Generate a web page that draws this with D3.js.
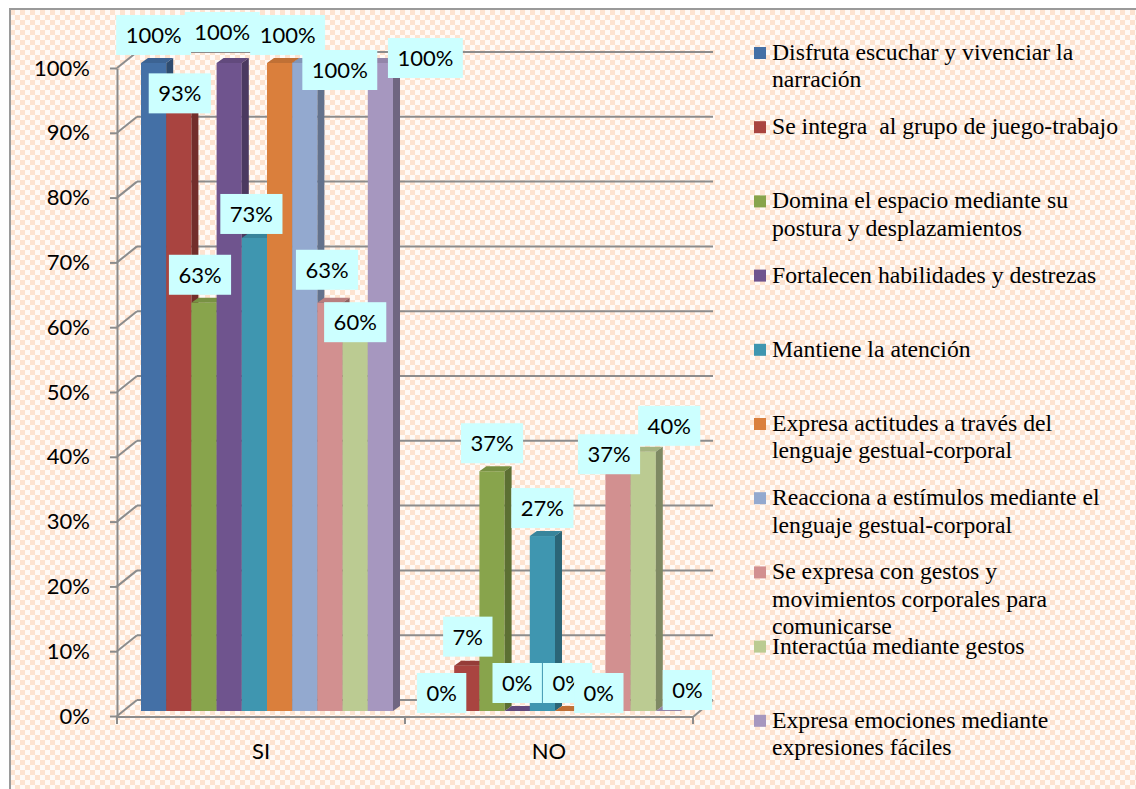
<!DOCTYPE html>
<html>
<head>
<meta charset="utf-8">
<script src="https://cdn.jsdelivr.net/npm/d3@7"></script>
<style>
  body { margin: 0; background: #fff; }
  svg { display: block; }
</style>
</head>
<body>
<div id="chart"></div>
<script>
// categories and series
const categories = ["SI", "NO"];
const seriesNames = [
  "Disfruta escuchar y vivenciar la\nnarración",
  "Se integra  al grupo de juego-trabajo",
  "Domina el espacio mediante su\npostura y desplazamientos",
  "Fortalecen habilidades y destrezas",
  "Mantiene la atención",
  "Expresa actitudes a través del\nlenguaje gestual-corporal",
  "Reacciona a estímulos mediante el\nlenguaje gestual-corporal",
  "Se expresa con gestos y\nmovimientos corporales para\ncomunicarse",
  "Interactúa mediante gestos",
  "Expresa emociones mediante\nexpresiones fáciles"
];
// percent values, one entry per series
const siValues = [100, 93, 63, 100, 73, 100, 100, 63, 60, 100];
const noValues = [0, 7, 37, 0, 27, 0, 0, 37, 40, 0];
const yTicks = [0, 10, 20, 30, 40, 50, 60, 70, 80, 90, 100];

const colors = ["#4470a6", "#a94440", "#88a44c", "#6f548e", "#3f96b0",
                "#da7f3c", "#93a9cf", "#d29090", "#bbcb92", "#a697bf"];

// labels were dragged by hand in the original, these are the pixel nudges
// from the default "above the bar" spot
const labelNudge = {
  SI: [[0, 0], [1, 13], [-4, 0], [-7, -3], [-3, 4], [8, 0], [35, 35], [-3, -5], [0, 28], [45, 23]],
  NO: [[0, 10], [1, -1], [0, 0], [0, 0], [0, 0], [0, 0], [6, 10], [-9, 11], [26, 2], [19, 7]]
};

const width = 1136, height = 789;
const labelFont = "Lato, 'Open Sans', sans-serif";

const svg = d3.select("#chart").append("svg")
    .attr("width", width)
    .attr("height", height);

// checker background
const defs = svg.append("defs");
const pat = defs.append("pattern")
    .attr("id", "checker")
    .attr("patternUnits", "userSpaceOnUse")
    .attr("width", 10).attr("height", 10);
pat.append("rect").attr("width", 10).attr("height", 10).attr("fill", "#fffaf6");
pat.append("rect").attr("width", 5).attr("height", 5).attr("fill", "#fde3d0");
pat.append("rect").attr("x", 5).attr("y", 5).attr("width", 5).attr("height", 5).attr("fill", "#fde3d0");

svg.append("rect")
    .attr("x", 10).attr("y", 9)
    .attr("width", width).attr("height", height)
    .attr("fill", "url(#checker)")
    .attr("stroke", "#9a9a9a")
    .attr("stroke-width", 2);

// scales
const y = d3.scaleLinear().domain([0, 100]).range([716, 68]);
const x0 = d3.scaleBand().domain(categories).range([117, 693]);
const x1 = d3.scaleBand().domain(seriesNames).range([18, 270]);

// 3D offsets: full wall depth, bar front inset, bar depth
const wall = {dx: 20, dy: -16};
const inset = {dx: 6, dy: -5};
const depth = {dx: 7, dy: -5};
const gridColor = "#8c8c8c";

// walls and gridlines
const grid = svg.append("g")
    .attr("stroke", gridColor)
    .attr("stroke-width", 2)
    .attr("fill", "none");

grid.selectAll(".back")
    .data(yTicks)
    .join("line")
    .attr("x1", x0.range()[0] + wall.dx)
    .attr("x2", x0.range()[1] + wall.dx)
    .attr("y1", d => y(d) + wall.dy)
    .attr("y2", d => y(d) + wall.dy);

grid.selectAll(".side")
    .data(yTicks)
    .join("line")
    .attr("x1", x0.range()[0])
    .attr("x2", x0.range()[0] + wall.dx)
    .attr("y1", d => y(d))
    .attr("y2", d => y(d) + wall.dy);

// floor: front edge and right edge
grid.append("line")
    .attr("x1", x0.range()[0]).attr("x2", x0.range()[1])
    .attr("y1", y(0) + 1).attr("y2", y(0) + 1);
grid.append("line")
    .attr("x1", x0.range()[1]).attr("x2", x0.range()[1] + wall.dx)
    .attr("y1", y(0) + 1).attr("y2", y(0) + wall.dy);

// category boundary ticks
grid.selectAll(".ctick")
    .data(categories.map(c => x0(c)).concat([x0.range()[1]]))
    .join("line")
    .attr("x1", d => d).attr("x2", d => d)
    .attr("y1", y(0) + 1).attr("y2", y(0) + 8);

// Y axis
const yAxis = svg.append("g")
    .attr("transform", "translate(" + x0.range()[0] + ",0)")
    .call(d3.axisLeft(y)
        .tickValues(yTicks)
        .tickFormat(d => d + "%")
        .tickSize(7)
        .tickSizeOuter(0)
        .tickPadding(20));
yAxis.selectAll("path, line")
    .attr("stroke", gridColor)
    .attr("stroke-width", 2);
yAxis.selectAll("text")
    .attr("fill", "#000")
    .style("font-family", labelFont)
    .style("font-size", "22px");

// X axis labels
const xAxis = svg.append("g")
    .attr("transform", "translate(0," + (y(0) + 1) + ")")
    .call(d3.axisBottom(x0).tickSize(0).tickPadding(26));
xAxis.select(".domain").remove();
xAxis.selectAll("text")
    .attr("fill", "#000")
    .style("font-family", labelFont)
    .style("font-size", "22px");

// bars
const rows = [];
categories.forEach((cat, ci) => {
  const vals = ci === 0 ? siValues : noValues;
  seriesNames.forEach((s, si) => {
    rows.push({cat: cat, series: s, index: si, value: vals[si]});
  });
});

const bw = x1.bandwidth();
const barX = d => x0(d.cat) + inset.dx + x1(d.series);
const barTop = d => y(d.value) + inset.dy;
const barBase = d => y(0) + inset.dy;

const bars = svg.append("g").selectAll("g")
    .data(rows)
    .join("g");

bars.append("rect")
    .attr("x", barX)
    .attr("y", barTop)
    .attr("width", bw)
    .attr("height", d => barBase(d) - barTop(d))
    .attr("fill", d => colors[d.index]);

bars.append("path")
    .attr("d", d => {
      const x = barX(d), t = barTop(d);
      return "M" + x + "," + t + "L" + (x + bw) + "," + t +
        "L" + (x + bw + depth.dx) + "," + (t + depth.dy) +
        "L" + (x + depth.dx) + "," + (t + depth.dy) + "Z";
    })
    .attr("fill", d => d3.color(colors[d.index]).darker(0.35));

bars.append("path")
    .attr("d", d => {
      const x = barX(d) + bw, t = barTop(d), b = barBase(d);
      return "M" + x + "," + t + "L" + (x + depth.dx) + "," + (t + depth.dy) +
        "L" + (x + depth.dx) + "," + (b + depth.dy) +
        "L" + x + "," + b + "Z";
    })
    .attr("fill", d => d3.color(colors[d.index]).darker(1.1));

// data labels, drawn series by series on top of all bars
const labelRows = seriesNames.flatMap((s, si) => rows.filter(r => r.index === si));
const labels = svg.append("g").selectAll("g")
    .data(labelRows)
    .join("g")
    .attr("transform", d => {
      const n = labelNudge[d.cat][d.index];
      return "translate(" + (barX(d) + bw / 2 + n[0]) + "," + (barTop(d) - 28 + n[1]) + ")";
    });

labels.append("text")
    .attr("text-anchor", "middle")
    .attr("dy", "0.36em")
    .style("font-family", labelFont)
    .style("font-size", "22px")
    .attr("fill", "#000")
    .text(d => d.value + "%");

labels.insert("rect", "text")
    .each(function () {
      const t = d3.select(this.parentNode).select("text").node();
      const w = t.getComputedTextLength() + 19;
      d3.select(this)
          .attr("x", -w / 2).attr("y", -20)
          .attr("width", w).attr("height", 40);
    })
    .attr("fill", "#ccffff");

// legend
const legendStep = 74.2;
const legend = svg.append("g").selectAll("g")
    .data(seriesNames)
    .join("g")
    .attr("transform", (d, i) => "translate(754," + (60 + i * legendStep) + ")");

legend.append("rect")
    .attr("x", 0).attr("y", -13)
    .attr("width", 12).attr("height", 12)
    .attr("fill", (d, i) => colors[i]);

legend.append("text")
    .attr("x", 18)
    .style("font-family", "'Liberation Serif', 'Times New Roman', serif")
    .style("font-size", "23.7px")
    .style("white-space", "pre")
    .attr("fill", "#000")
    .selectAll("tspan")
    .data(d => d.split("\n"))
    .join("tspan")
    .attr("x", 18)
    .attr("y", (d, i) => i * 27.4)
    .text(d => d);
</script>
</body>
</html>
